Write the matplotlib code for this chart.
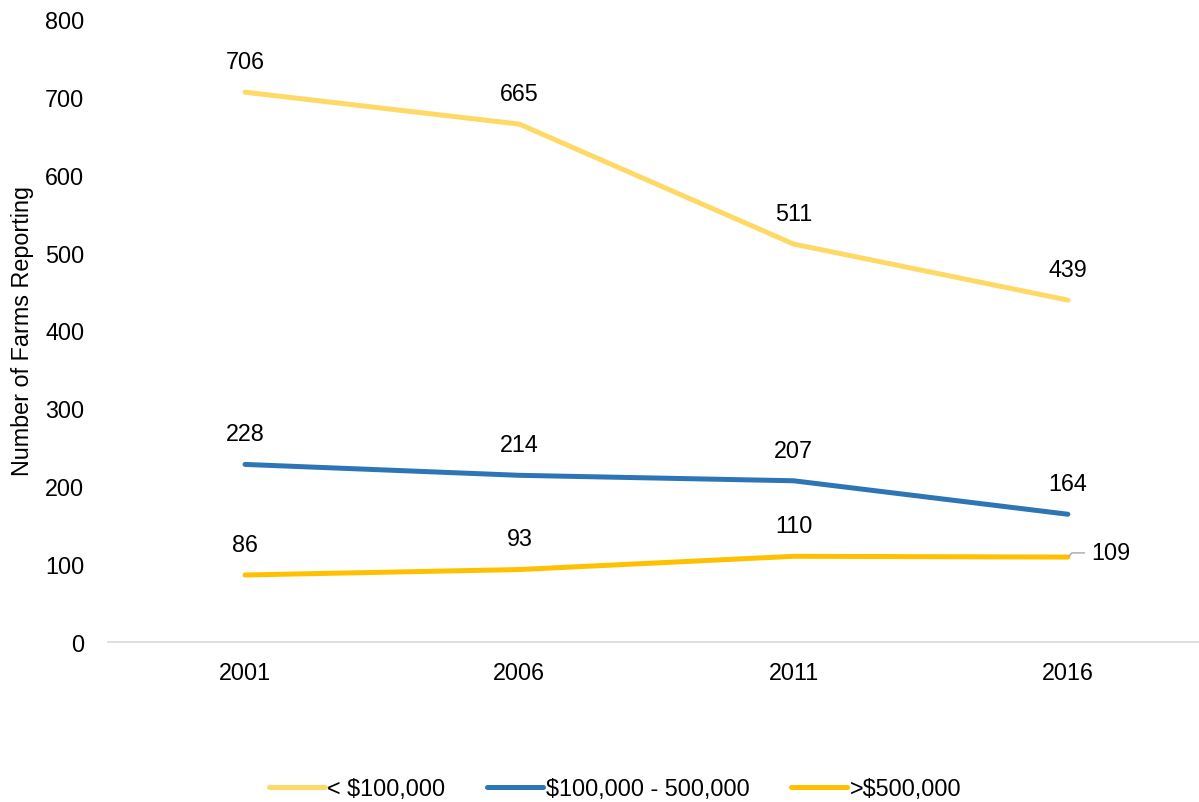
import matplotlib
matplotlib.use("Agg")
from matplotlib import pyplot as plt

years = ["2001", "2006", "2011", "2016"]
small = [706, 665, 511, 439]
medium = [228, 214, 207, 164]
large = [86, 93, 110, 109]

names = ["< $100,000", "$100,000 - 500,000", ">$500,000"]
colors = ["#FFD966", "#2E75B6", "#FFC000"]

plt.rcParams['font.family'] = ['Liberation Sans', 'DejaVu Sans']
FS = 16.8

fig = plt.figure(figsize=(11.99, 8.03), dpi=100)
ax = fig.add_axes([0.090, 0.1993, 0.915, 0.7758])

xs = list(range(len(years)))
lines = []
for vals, name, col in zip([small, medium, large], names, colors):
    ln, = ax.plot(xs, vals, color=col, lw=3.6, label=name, solid_capstyle='round')
    lines.append(ln)

# data labels above the points
for vals in [small, medium]:
    for x, v in zip(xs, vals):
        ax.annotate(str(v), (x, v), xytext=(0, 22), textcoords='offset points',
                    ha='center', va='center', fontsize=FS)
for x, v in zip(xs[:-1], large[:-1]):
    ax.annotate(str(v), (x, v), xytext=(0, 22), textcoords='offset points',
                ha='center', va='center', fontsize=FS)
# last one sits to the right with a leader line
ax.annotate(str(large[-1]), (xs[-1], large[-1]), xytext=(17, 3), textcoords='offset points',
            ha='left', va='center', fontsize=FS,
            arrowprops=dict(arrowstyle='-', color='#A6A6A6', lw=1,
                            connectionstyle='angle,angleA=0,angleB=45,rad=0',
                            shrinkA=3, shrinkB=1))

ax.set_xlim(-0.5, 3.5)
ax.set_ylim(0, 800)
ax.set_xticks(xs)
ax.set_xticklabels(years)
ax.set_yticks(range(0, 801, 100))
ax.tick_params(axis='both', length=0, labelsize=FS)
ax.tick_params(axis='x', pad=14)
ax.tick_params(axis='y', pad=17)
for s in ['top', 'right', 'left']:
    ax.spines[s].set_visible(False)
ax.spines['bottom'].set_color('#D9D9D9')
ax.spines['bottom'].set_linewidth(1.2)
ax.set_ylabel("Number of Farms Reporting", fontsize=FS, labelpad=8)

fig.legend(handles=lines, loc='center', bbox_to_anchor=(0.513, 0.017), ncol=3,
           frameon=False, fontsize=FS, handlelength=2.4, handletextpad=0.1,
           columnspacing=1.8)

plt.savefig("out.png", dpi=100)
